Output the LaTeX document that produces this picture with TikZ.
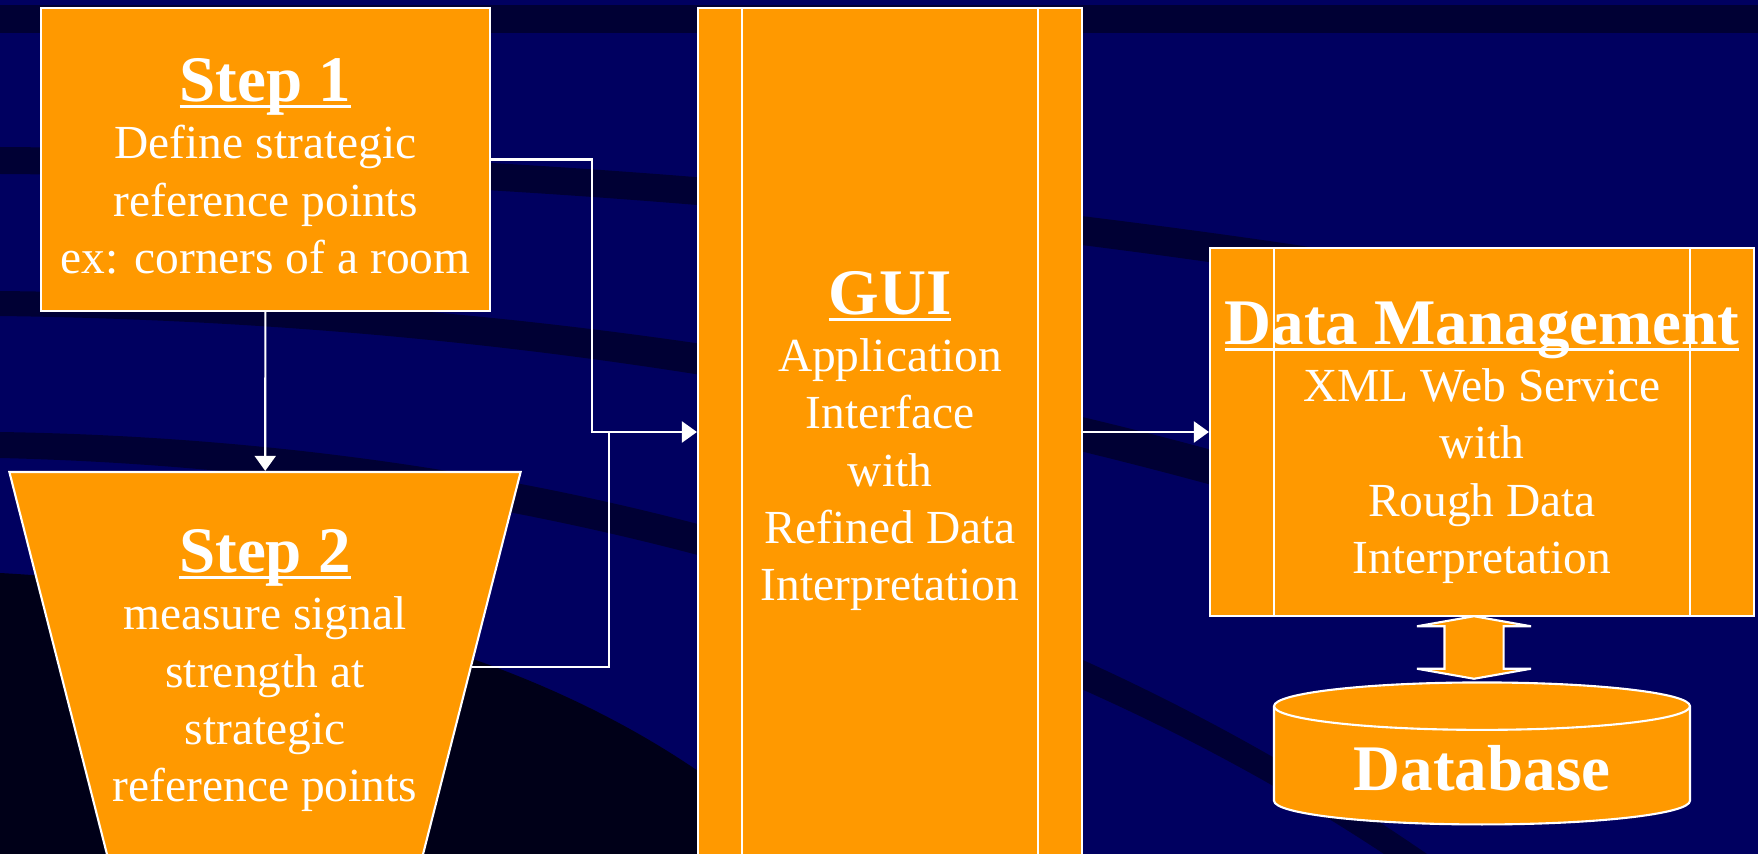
\documentclass[tikz,border=0pt]{standalone}
\usepackage{fontspec}
\setmainfont{Liberation Serif}
\usetikzlibrary{shapes.geometric,shapes.arrows,arrows.meta,calc}
\definecolor{cNavy}{HTML}{000060}
\definecolor{cBand}{HTML}{000034}
\definecolor{cDeep}{HTML}{000018}
\definecolor{cOrange}{HTML}{FF9900}
\newsavebox{\headbox}
% bold heading with a close underline; optional arg lifts the line
\newcommand{\headline}[2][0pt]{{\fontsize{18.5}{20}\selectfont\bfseries
  \sbox{\headbox}{#2}\rule{0pt}{\dimexpr12.8pt+#1\relax}%
  \rlap{\rule[-1.9pt]{\wd\headbox}{0.9pt}}\usebox{\headbox}}}
\tikzset{
  font=\fontsize{13.5}{16.3}\selectfont,
  base/.style={draw=white,line width=0.6pt,fill=cOrange,text=white,align=center,inner sep=1pt},
  stepbox/.style={base,rectangle,minimum width=44.9mm,minimum height=30.3mm},
  funnel/.style={base,trapezium,shape border rotate=180,trapezium left angle=71.5,
                 trapezium right angle=71.5,trapezium stretches=true,
                 minimum width=51.2mm,minimum height=39mm},
  sidebars/.style={path picture={\draw[white,line width=0.6pt]
      ([xshift=#1]path picture bounding box.north west) -- ([xshift=#1]path picture bounding box.south west)
      ([xshift=-#1]path picture bounding box.north east) -- ([xshift=-#1]path picture bounding box.south east);}},
  procbox/.style={base,rectangle},
  dbstore/.style={base,cylinder,shape border rotate=90,aspect=0.18,
                  minimum width=41.6mm,minimum height=14.2mm},
  bidir/.style={base,double arrow,rotate=90,double arrow head extend=2.75mm,
                double arrow tip angle=160,minimum size=0pt,inner sep=0pt},
  flow/.style={-{Triangle[length=1.5mm,width=2.1mm]},white,line width=0.6pt},
  link/.style={white,line width=0.6pt},
  band/.style={fill=cBand,draw=none},
}
\begin{document}
\begin{tikzpicture}[x=0.1mm,y=-0.1mm]

% ---------- slide background ----------
\useasboundingbox (0,0) rectangle (1758,854);
\clip (0,0) rectangle (1758,854);
\fill[cNavy] (0,0) rectangle (1758,854);
\path[band] (0,5) -- (1758,5) -- (1758,33) -- (0,33) -- cycle;
\path[band] (0,147) .. controls (450,150) and (900,185) .. (1330,250)
  -- (1330,280) .. controls (900,213) and (450,177) .. (0,174) -- cycle;
\path[band] (0,291) .. controls (450,296) and (850,350) .. (1230,455)
  -- (1230,490) .. controls (850,385) and (450,322) .. (0,316) -- cycle;
\path[band] (0,432) .. controls (500,440) and (1000,560) .. (1427,854)
  -- (1384,854) .. controls (1000,600) and (500,470) .. (0,458) -- cycle;
\path[fill=cDeep] (0,573) .. controls (300,590) and (600,660) .. (800,854) -- (0,854) -- cycle;

% ---------- boxes ----------
\node[stepbox] (step1) at (265.5,159.5)
  {\headline[3.4pt]{Step 1}\\ Define strategic\\ reference points\\ ex: corners of a room};
\node[funnel] (step2) at (265,667)
  {\headline[1.6pt]{Step 2}\\ measure signal\\ strength at\\ strategic\\ reference points};
\node[procbox,sidebars=4.4mm,minimum width=38.4mm,minimum height=86.4mm] (gui) at (890,440)
  {\headline{GUI}\\ Application\\ Interface\\ with\\ Refined Data\\ Interpretation};
\node[procbox,sidebars=6.4mm,minimum width=54.4mm,minimum height=36.8mm] (dm) at (1482,432)
  {\headline[5.4pt]{Data Management}\\ XML Web Service\\ with\\ Rough Data\\ Interpretation};
\node[bidir] (dblink) at (1474,647.5) {\phantom{\rule{5mm}{5.7mm}}};
\node[dbstore] (db) at (1482,768) {\fontsize{18.5}{20}\selectfont\bfseries Database};

% ---------- connectors ----------
\coordinate (j1) at (592,432);
\coordinate (j2) at (609,432);
\draw[flow] (step1) -- (step2);
\draw[flow] (step1.east) -| (j1) -- (j1 -| gui.west);
\draw[link] (step2.east) -| (j2);
\draw[flow] (dm.west -| gui.east) -- (dm.west);

\end{tikzpicture}
\end{document}
